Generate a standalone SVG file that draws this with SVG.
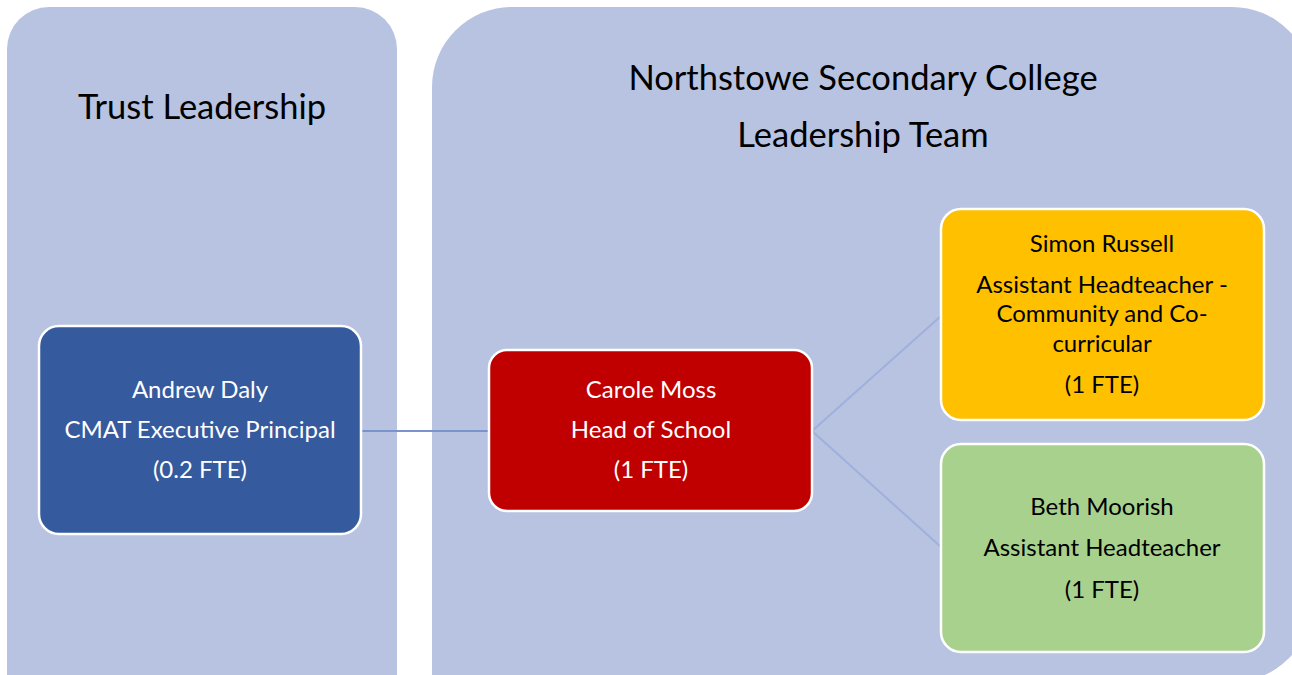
<svg xmlns="http://www.w3.org/2000/svg" width="1292" height="675" viewBox="0 0 1292 675">
<style>
.panel{fill:#b7c3e1}
.node{stroke:#ffffff;stroke-width:2.5}
.t{font-family:Lato,"Open Sans","Liberation Sans",sans-serif;text-anchor:middle}
.title{font-size:34.5px;fill:#000}
.w{font-size:24px;fill:#ffffff}
.b{font-size:24px;fill:#000000}
.conn{stroke:#8da0d4;stroke-width:2;fill:none}
</style>
<rect width="1292" height="675" fill="#ffffff"/>
<g id="panel-trust">
<rect class="panel" x="7" y="7" width="390" height="720" rx="42"/>
<text class="t title" x="202" y="119">Trust Leadership</text>
</g>
<g id="panel-college">
<rect class="panel" x="432" y="7" width="880" height="675" rx="80"/>
<rect class="panel" x="432" y="400" width="60" height="300"/>
<text class="t title" x="863" y="90">Northstowe Secondary College</text>
<text class="t title" x="863" y="147">Leadership Team</text>
</g>
<g id="connectors">
<line class="conn" x1="361" y1="431" x2="489" y2="431" style="stroke:#7b93cc"/>
<line class="conn" x1="812" y1="431" x2="941" y2="316" style="stroke:#9fb0dc"/>
<line class="conn" x1="812" y1="431" x2="941" y2="547" style="stroke:#9fb0dc"/>
</g>
<g id="node-andrew">
<rect class="node" x="39" y="326" width="322" height="208" rx="20" fill="#355a9e"/>
<text class="t w" x="200" y="398">Andrew Daly</text>
<text class="t w" x="200" y="438">CMAT Executive Principal</text>
<text class="t w" x="200" y="478">(0.2 FTE)</text>
</g>
<g id="node-carole">
<rect class="node" x="489" y="350" width="323" height="161" rx="18" fill="#c00000"/>
<text class="t w" x="651" y="398">Carole Moss</text>
<text class="t w" x="651" y="438">Head of School</text>
<text class="t w" x="651" y="478">(1 FTE)</text>
</g>
<g id="node-simon">
<rect class="node" x="941" y="209" width="323" height="211" rx="20" fill="#ffc000"/>
<text class="t b" x="1102" y="252">Simon Russell</text>
<text class="t b" x="1102" y="293">Assistant Headteacher -</text>
<text class="t b" x="1102" y="322">Community and Co-</text>
<text class="t b" x="1102" y="352">curricular</text>
<text class="t b" x="1102" y="393">(1 FTE)</text>
</g>
<g id="node-beth">
<rect class="node" x="941" y="444" width="323" height="208" rx="20" fill="#a9d18e"/>
<text class="t b" x="1102" y="515">Beth Moorish</text>
<text class="t b" x="1102" y="556">Assistant Headteacher</text>
<text class="t b" x="1102" y="598">(1 FTE)</text>
</g>
</svg>
